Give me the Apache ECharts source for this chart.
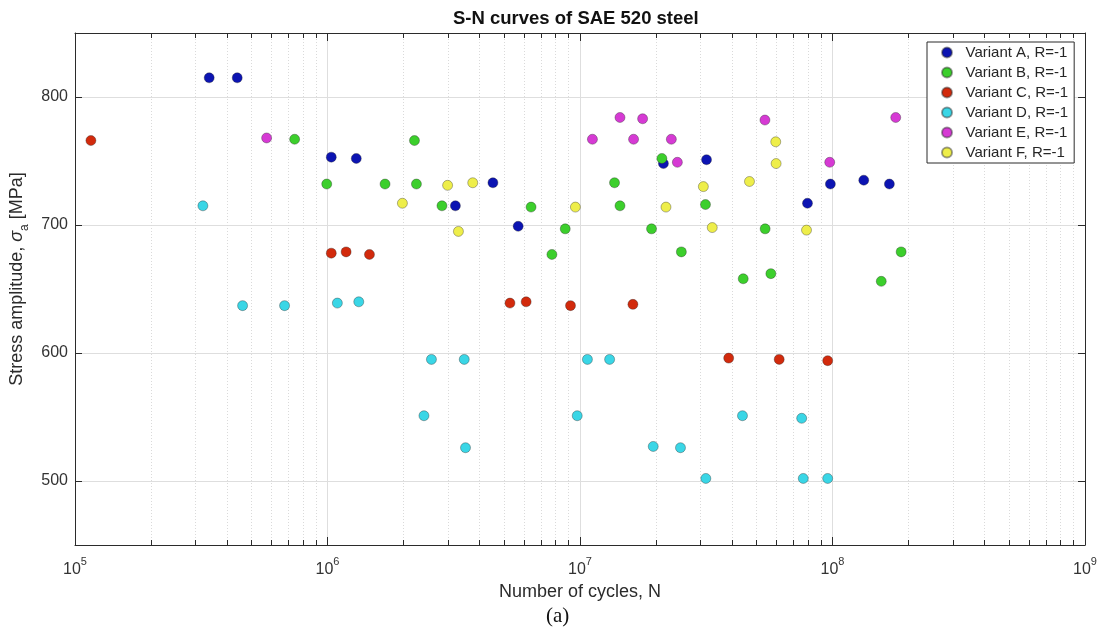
<!DOCTYPE html>
<html>
<head>
<meta charset="utf-8">
<script src="https://cdn.jsdelivr.net/npm/echarts@6/dist/echarts.min.js"></script>
<style>
html,body{margin:0;padding:0;background:#fff;}
#chart{width:1101px;height:635px;}
</style>
</head>
<body>
<div id="chart"></div>
<script>
// ---- data ----
const seriesNames = ['Variant A, R=-1','Variant B, R=-1','Variant C, R=-1','Variant D, R=-1','Variant E, R=-1','Variant F, R=-1'];

const aN = [3.40e5, 4.39e5, 1.035e6, 1.30e6, 3.21e6, 4.52e6, 5.69e6, 2.14e7, 3.17e7, 7.96e7, 9.81e7, 1.33e8, 1.68e8];
const aS = [815, 815, 753, 752, 715, 733, 699, 748, 751, 717, 732, 735, 732];

const bN = [7.41e5, 9.93e5, 1.69e6, 2.21e6, 2.25e6, 2.84e6, 6.40e6, 7.74e6, 8.74e6, 1.37e7, 1.44e7, 1.92e7, 2.11e7, 2.52e7, 3.14e7, 4.43e7, 5.41e7, 5.70e7, 1.56e8, 1.87e8];
const bS = [767, 732, 732, 766, 732, 715, 714, 677, 697, 733, 715, 697, 752, 679, 716, 658, 697, 662, 656, 679];

const cN = [1.156e5, 1.035e6, 1.185e6, 1.466e6, 5.28e6, 6.12e6, 9.17e6, 1.62e7, 3.88e7, 6.15e7, 9.57e7];
const cS = [766, 678, 679, 677, 639, 640, 637, 638, 596, 595, 594];

const dN = [3.21e5, 4.61e5, 6.76e5, 1.094e6, 1.33e6, 2.58e6, 3.48e6, 2.41e6, 3.52e6, 1.07e7, 1.31e7, 9.75e6, 4.40e7, 7.55e7, 1.95e7, 2.50e7, 3.15e7, 7.66e7, 9.57e7];
const dS = [715, 637, 637, 639, 640, 595, 595, 551, 526, 595, 595, 551, 551, 549, 527, 526, 502, 502, 502];

const eN = [5.74e5, 1.12e7, 1.44e7, 1.77e7, 1.63e7, 2.30e7, 2.43e7, 5.40e7, 9.75e7, 1.78e8];
const eS = [768, 767, 784, 783, 767, 767, 749, 782, 749, 784];

const fN = [1.98e6, 2.99e6, 3.30e6, 3.76e6, 9.59e6, 2.19e7, 3.08e7, 3.34e7, 4.69e7, 5.96e7, 5.98e7, 7.89e7];
const fS = [717, 731, 695, 733, 714, 714, 730, 698, 734, 765, 748, 696];

// ---- axis ticks ----
const xMajorTicks = [1e5, 1e6, 1e7, 1e8, 1e9];
const xMinorTicks = [2e5,3e5,4e5,5e5,6e5,7e5,8e5,9e5,
                     2e6,3e6,4e6,5e6,6e6,7e6,8e6,9e6,
                     2e7,3e7,4e7,5e7,6e7,7e7,8e7,9e7,
                     2e8,3e8,4e8,5e8,6e8,7e8,8e8,9e8];
const yTicks = [500, 600, 700, 800];
const supDigits = {100000:'5',1000000:'6',10000000:'7',100000000:'8',1000000000:'9'};

const colors = ['#0c14b2', '#3ccf2c', '#d22a0c', '#3ad6e6', '#d63ad4', '#eeee4a'];

function zip(n, s){ return n.map((v,i)=>[v, s[i]]); }
const allData = [zip(aN,aS), zip(bN,bS), zip(cN,cS), zip(dN,dS), zip(eN,eS), zip(fN,fS)];

const FONT = 'Liberation Sans, Arial, Helvetica, sans-serif';
const axisColor = '#2b2b2b';

const chart = echarts.init(document.getElementById('chart'), null, {renderer:'canvas'});

const baseX = {type:'log', logBase:10, min:1e5, max:1e9, gridIndex:0};

const option = {
  backgroundColor:'#fff',
  animation:false,
  textStyle:{fontFamily:FONT},
  title:{
    text:'S-N curves of SAE 520 steel',
    left:453, top:9, padding:0,
    textStyle:{fontFamily:FONT, fontSize:18.5, fontWeight:'bold', color:'#111'}
  },
  grid:{left:75, right:16, top:33, bottom:90, containLabel:false},
  legend:{
    orient:'vertical',
    left:927, top:42,
    padding:[3,6,3,14],
    itemGap:5,
    itemWidth:27, itemHeight:10,
    backgroundColor:'#fff',
    borderColor:'#2b2b2b', borderWidth:1, borderRadius:0,
    icon:'circle',
    textStyle:{fontFamily:FONT, fontSize:15, color:'#262626', lineHeight:15},
    data:seriesNames
  },
  xAxis:[
    Object.assign({}, baseX, {
      position:'bottom',
      name:'Number of cycles, N', nameLocation:'middle', nameGap:38,
      nameTextStyle:{fontFamily:FONT, fontSize:18, color:'#2b2b2b'},
      axisLine:{show:true, onZero:false, lineStyle:{color:axisColor, width:1}},
      axisTick:{show:true, inside:true, length:8, customValues:xMajorTicks, lineStyle:{color:axisColor}},
      axisLabel:{
        show:true, margin:11, customValues:xMajorTicks,
        formatter:function(v){ return '{b|10}{s|' + (supDigits[Math.round(v)]||'') + '}'; },
        rich:{
          b:{fontFamily:FONT, fontSize:16, color:'#333', lineHeight:22, verticalAlign:'bottom'},
          s:{fontFamily:FONT, fontSize:11, color:'#333', lineHeight:22, verticalAlign:'top'}
        }
      },
      splitLine:{show:true, lineStyle:{color:'#dedede', width:1, type:'solid'}}
    }),
    Object.assign({}, baseX, {
      position:'bottom', offset:0,
      axisLine:{show:false},
      axisTick:{show:true, inside:true, length:5, customValues:xMinorTicks, lineStyle:{color:axisColor}},
      axisLabel:{show:false},
      splitLine:{show:true, lineStyle:{color:'#dadada', width:1, type:[1,2]}}
    }),
    Object.assign({}, baseX, {
      position:'top', offset:0,
      axisLine:{show:true, onZero:false, lineStyle:{color:axisColor, width:1}},
      axisTick:{show:true, inside:true, length:8, customValues:xMajorTicks, lineStyle:{color:axisColor}},
      axisLabel:{show:false},
      splitLine:{show:false}
    }),
    Object.assign({}, baseX, {
      position:'top', offset:0,
      axisLine:{show:false},
      axisTick:{show:true, inside:true, length:5, customValues:xMinorTicks, lineStyle:{color:axisColor}},
      axisLabel:{show:false},
      splitLine:{show:false}
    })
  ],
  yAxis:[
    {
      type:'value', min:450, max:850, position:'left',
      name:'Stress amplitude, {i|σ}{s|a} [MPa]', nameLocation:'middle', nameGap:37,
      nameTextStyle:{
        fontFamily:FONT, fontSize:18, color:'#2b2b2b', padding:[0,0,0,20],
        rich:{
          i:{fontFamily:FONT, fontSize:18, fontStyle:'italic', color:'#2b2b2b'},
          s:{fontFamily:FONT, fontSize:12, color:'#2b2b2b', verticalAlign:'bottom', lineHeight:26}
        }
      },
      axisLine:{show:true, onZero:false, lineStyle:{color:axisColor, width:1}},
      axisTick:{show:true, inside:true, length:7, customValues:yTicks, lineStyle:{color:axisColor}},
      axisLabel:{show:true, margin:7, customValues:yTicks, fontFamily:FONT, fontSize:16, color:'#333'},
      splitLine:{show:true, lineStyle:{color:'#dedede', width:1}}
    },
    {
      type:'value', min:450, max:850, position:'right',
      axisLine:{show:true, onZero:false, lineStyle:{color:axisColor, width:1}},
      axisTick:{show:true, inside:true, length:7, customValues:yTicks, lineStyle:{color:axisColor}},
      axisLabel:{show:false},
      splitLine:{show:false}
    }
  ],
  graphic:[
    {type:'text', left:546, top:606, style:{text:'(a)', font:'21px "Liberation Serif", "DejaVu Serif", serif', fill:'#111'}}
  ],
  series: seriesNames.map((name, i) => ({
    name:name,
    type:'scatter',
    xAxisIndex:0, yAxisIndex:0,
    symbol:'circle',
    symbolSize:10,
    data:allData[i],
    z:2+i,
    itemStyle:{color:colors[i], borderColor:'rgba(40,40,40,0.45)', borderWidth:0.8, opacity:1}
  }))
};
chart.setOption(option);
</script>
</body>
</html>
